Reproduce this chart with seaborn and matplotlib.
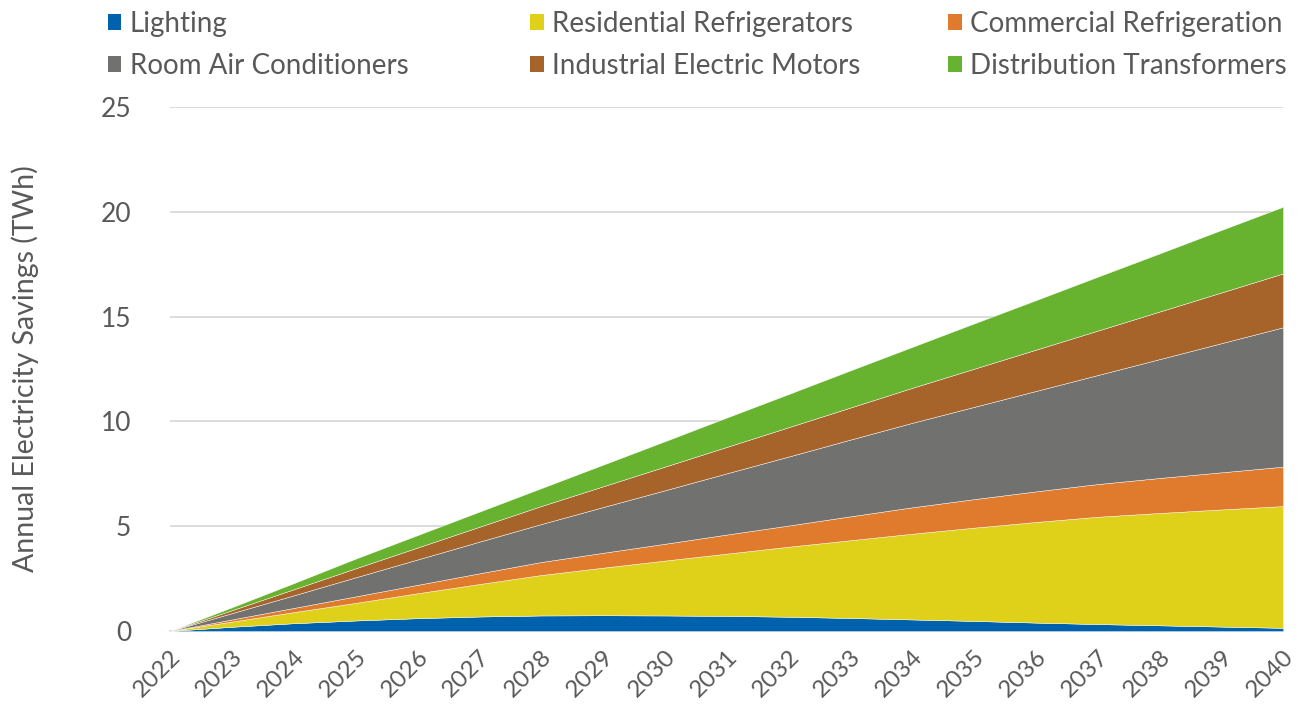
import numpy as np
import pandas as pd
import seaborn as sns
import matplotlib
matplotlib.use("Agg")
import matplotlib.pyplot as plt
from matplotlib.patches import Patch

# Annual electricity savings (TWh) by program
YEARS = list(range(2022, 2041))
LIGHTING = [0, 0.20, 0.37, 0.50, 0.61, 0.69, 0.74, 0.75, 0.74, 0.72,
            0.68, 0.62, 0.55, 0.48, 0.40, 0.33, 0.27, 0.21, 0.15]
RES_REFRIG = [0, 0.25, 0.53, 0.84, 1.19, 1.55, 1.93, 2.27, 2.62, 2.97,
              3.34, 3.71, 4.09, 4.45, 4.80, 5.12, 5.36, 5.59, 5.81]
COMM_REFRIG = [0, 0.10, 0.20, 0.31, 0.40, 0.51, 0.62, 0.71, 0.80, 0.91,
               1.01, 1.14, 1.26, 1.36, 1.46, 1.56, 1.67, 1.77, 1.88]
ROOM_AC = [0, 0.30, 0.60, 0.91, 1.21, 1.51, 1.81, 2.18, 2.55, 2.92,
           3.29, 3.66, 4.03, 4.40, 4.79, 5.20, 5.67, 6.16, 6.65]
MOTORS = [0, 0.14, 0.29, 0.43, 0.57, 0.71, 0.86, 0.99, 1.13, 1.26,
          1.40, 1.53, 1.67, 1.82, 1.97, 2.12, 2.27, 2.42, 2.57]
TRANSFORMERS = [0, 0.14, 0.29, 0.46, 0.59, 0.72, 0.85, 1.03, 1.21, 1.40,
                1.58, 1.77, 1.95, 2.16, 2.36, 2.57, 2.77, 2.98, 3.18]

SERIES = ["Lighting", "Residential Refrigerators", "Commercial Refrigeration",
          "Room Air Conditioners", "Industrial Electric Motors", "Distribution Transformers"]
COLORS = ["#0062AD", "#DFD11A", "#E07B2D", "#71716F", "#A6642A", "#67B22F"]
Y_TICKS = [0, 5, 10, 15, 20, 25]

TEXT = "#595959"
GRID = "#D9D9D9"

df = pd.DataFrame({
    "year": YEARS,
    SERIES[0]: LIGHTING,
    SERIES[1]: RES_REFRIG,
    SERIES[2]: COMM_REFRIG,
    SERIES[3]: ROOM_AC,
    SERIES[4]: MOTORS,
    SERIES[5]: TRANSFORMERS,
})

sns.set_style("white")
plt.rcParams["font.family"] = ["Lato", "DejaVu Sans"]

fig = plt.figure(figsize=(13.03, 7.15), dpi=100)
ax = fig.add_axes([0.1305, 0.1175, 0.8542, 0.7328])

ax.stackplot(df["year"], [df[s] for s in SERIES], colors=COLORS,
             edgecolor="white", linewidth=0.3, zorder=3)

ax.set_xlim(2022, 2040)
ax.set_ylim(0, 25)
ax.set_yticks(Y_TICKS)
ax.set_xticks(YEARS)
ax.set_xticklabels([str(y) for y in YEARS], rotation=45, ha="right",
                   rotation_mode="anchor")
ax.yaxis.grid(True, color=GRID, linewidth=1.3, zorder=0)
ax.xaxis.grid(False)

for side in ["top", "right", "left"]:
    ax.spines[side].set_visible(False)
ax.spines["bottom"].set_color(GRID)
ax.spines["bottom"].set_linewidth(1.3)

ax.tick_params(axis="y", length=0, pad=28, labelsize=19, labelcolor=TEXT)
ax.tick_params(axis="x", length=7, width=1.3, color=GRID, direction="out",
               pad=4, labelsize=17.5, labelcolor=TEXT)

ax.set_ylabel("Annual Electricity Savings (TWh)", fontsize=20.5, color=TEXT)
ax.yaxis.set_label_coords(-0.118, 0.5)

# legend: Excel-style equal-width columns -> one small legend per column
handles = [Patch(facecolor=c, edgecolor="none") for c in COLORS]
columns = [(0, 3), (1, 4), (2, 5)]
col_x = [0.074, 0.398, 0.719]
for (a, b), x in zip(columns, col_x):
    fig.legend([handles[a], handles[b]], [SERIES[a], SERIES[b]],
               loc="upper left", bbox_to_anchor=(x, 1.0),
               frameon=False, fontsize=20, labelcolor=TEXT,
               handlelength=0.5, handleheight=0.5, handletextpad=0.3,
               labelspacing=0.56, borderaxespad=0)

fig.savefig("out.png", dpi=100)
